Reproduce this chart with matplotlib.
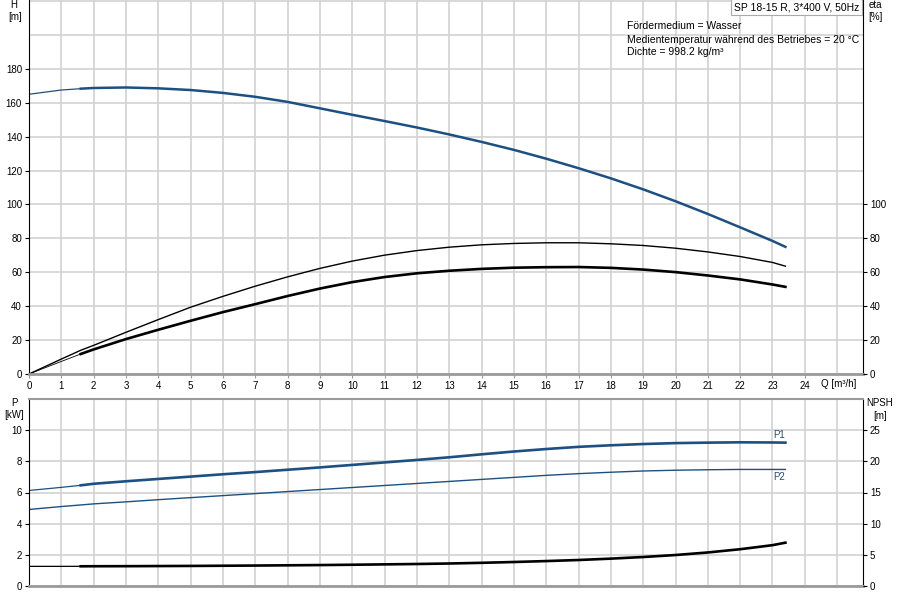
import numpy as np
import matplotlib
matplotlib.use('Agg')
import matplotlib.pyplot as plt

plt.rcParams['font.family'] = ['Liberation Sans', 'DejaVu Sans']
plt.rcParams['font.size'] = 7

# flow points, m3/h
q = [0, 1, 1.6, 2, 3, 4, 5, 6, 7, 8, 9, 10, 11, 12, 13, 14, 15, 16, 17, 18,
     19, 20, 21, 22, 23, 23.4]

# head, m
head = [165.0, 167.5, 168.3, 168.7, 169.0, 168.5, 167.5, 165.8, 163.5, 160.5,
        156.7, 152.9, 149.2, 145.4, 141.3, 136.9, 132.2, 127.0, 121.4, 115.4,
        108.9, 101.9, 94.4, 86.5, 78.5, 75.0]

# efficiencies, %
eta_pump = [0, 8.8, 14.0, 16.9, 24.6, 32.1, 39.4, 45.8, 51.8, 57.3, 62.3, 66.6,
            70.1, 72.8, 74.8, 76.2, 77.0, 77.4, 77.4, 76.8, 75.8, 74.2, 72.0,
            69.3, 65.8, 63.6]
eta_total = [0, 7.4, 11.8, 14.5, 20.6, 26.1, 31.4, 36.5, 41.2, 46.0, 50.4,
             54.2, 57.2, 59.4, 60.9, 62.0, 62.7, 63.0, 63.1, 62.6, 61.6, 60.1,
             58.1, 55.8, 52.8, 51.4]

# power, kW
p1 = [6.13, 6.33, 6.46, 6.56, 6.72, 6.87, 7.02, 7.17, 7.31, 7.46, 7.61, 7.77,
      7.93, 8.09, 8.26, 8.45, 8.63, 8.79, 8.93, 9.03, 9.11, 9.17, 9.20, 9.22,
      9.21, 9.20]
p2 = [4.91, 5.10, 5.20, 5.27, 5.40, 5.54, 5.67, 5.80, 5.93, 6.06, 6.19, 6.32,
      6.45, 6.58, 6.71, 6.84, 6.97, 7.10, 7.21, 7.30, 7.38, 7.43, 7.46, 7.48,
      7.48, 7.48]

# NPSH, m
npsh = [3.15, 3.15, 3.16, 3.17, 3.18, 3.20, 3.22, 3.25, 3.28, 3.32, 3.36, 3.41,
        3.47, 3.53, 3.61, 3.72, 3.85, 4.00, 4.17, 4.39, 4.65, 4.97, 5.38, 5.90,
        6.55, 6.95]

q_ticks = list(range(0, 25))
h_ticks = list(range(0, 181, 20))
eta_ticks = list(range(0, 101, 20))
p_ticks = list(range(0, 11, 2))
npsh_ticks = list(range(0, 26, 5))

blue = '#1c5082'
grid_c = '#d2d2d2'
k = 2  # index of Q = 1.6, start of the working range

fig = plt.figure(figsize=(9, 6), dpi=100)
ax = fig.add_axes([29 / 900, 226 / 600, 834 / 900, 374 / 600])
axp = fig.add_axes([29 / 900, 14 / 600, 834 / 900, 187 / 600])


def style_axes(a, ymax, ystep):
    a.set_xlim(0, 25.8)
    a.set_ylim(0, ymax)
    a.set_xticks(np.arange(0, 26, 1), minor=True)
    a.set_yticks(np.arange(0, ymax + 0.01, ystep), minor=True)
    a.grid(True, which='both', color=grid_c, lw=1.2)
    a.tick_params(which='minor', length=0)
    a.set_axisbelow(True)
    a.spines['top'].set_visible(False)
    a.spines['left'].set_color('black')
    a.spines['right'].set_color('black')
    a.spines['bottom'].set_color('#9a9a9a')
    a.spines['bottom'].set_linewidth(2)
    a.tick_params(axis='y', direction='out', length=3, width=0.8, pad=2,
                  labelsize=7)


style_axes(ax, 220.6, 20)
style_axes(axp, 12, 2)
axp.spines['top'].set_visible(True)
axp.spines['top'].set_color('#9a9a9a')
axp.spines['top'].set_linewidth(1.5)

ax.set_yticks(h_ticks)
ax.set_xticks(q_ticks)
ax.tick_params(axis='x', direction='out', length=3, width=0.8, pad=2,
               labelsize=7, color='#9a9a9a')
axp.set_yticks(p_ticks)
axp.set_xticks([])

# top panel curves
ax.plot(q[:k + 1], head[:k + 1], color=blue, lw=0.9)
ax.plot(q[k:], head[k:], color=blue, lw=1.8)
ax.plot(q, eta_pump, color='black', lw=1.0)
ax.plot(q[:k + 1], eta_total[:k + 1], color='black', lw=0.6)
ax.plot(q[k:], eta_total[k:], color='black', lw=1.9)

axe = ax.twinx()
axe.set_ylim(0, 220.6)
axe.set_yticks(eta_ticks)
axe.tick_params(axis='y', direction='out', length=3, width=0.8, pad=2,
                labelsize=7)
for s in axe.spines.values():
    s.set_visible(False)

# bottom panel curves
axp.plot(q[:k + 1], p1[:k + 1], color=blue, lw=0.9)
axp.plot(q[k:], p1[k:], color=blue, lw=1.9)
axp.plot(q, p2, color=blue, lw=1.0)

axn = axp.twinx()
axn.set_ylim(0, 30)
axn.set_yticks(npsh_ticks)
axn.tick_params(axis='y', direction='out', length=3, width=0.8, pad=2,
                labelsize=7)
for s in axn.spines.values():
    s.set_visible(False)
axn.plot(q[:k + 1], npsh[:k + 1], color='black', lw=0.9)
axn.plot(q[k:], npsh[k:], color='black', lw=1.9)

axp.text(23.2, p1[-1] + 0.15, 'P1', color='#2a4a70', fontsize=7,
         ha='center', va='bottom')
axp.text(23.2, p2[-1] - 0.15, 'P2', color='#2a4a70', fontsize=7,
         ha='center', va='top')

# axis captions
fig.text(14 / 900, 1 - 5 / 600, 'H', ha='center', va='center', fontsize=7)
fig.text(15 / 900, 1 - 17 / 600, '[m]', ha='center', va='center', fontsize=7)
fig.text(875 / 900, 1 - 5 / 600, 'eta', ha='center', va='center', fontsize=7)
fig.text(875 / 900, 1 - 17 / 600, '[%]', ha='center', va='center', fontsize=7)
fig.text(14 / 900, 1 - 403 / 600, 'P', ha='center', va='center', fontsize=7)
fig.text(14 / 900, 1 - 415 / 600, '[kW]', ha='center', va='center', fontsize=7)
fig.text(880 / 900, 1 - 403 / 600, 'NPSH', ha='center', va='center', fontsize=7)
fig.text(880 / 900, 1 - 416 / 600, '[m]', ha='center', va='center', fontsize=7)
fig.text(839 / 900, 1 - 384 / 600, 'Q [m³/h]', ha='center', va='center',
         fontsize=7)

fig.text(859 / 900, 1 - 7 / 600, 'SP 18-15 R, 3*400 V, 50Hz', ha='right',
         va='center', fontsize=7.5,
         bbox=dict(boxstyle='square,pad=0.25', fc='white', ec='#aaaaaa',
                   lw=0.8))
fig.text(627 / 900, 1 - 26 / 600, 'Fördermedium = Wasser', ha='left',
         va='center', fontsize=7.5)
fig.text(627 / 900, 1 - 40 / 600,
         'Medientemperatur während des Betriebes = 20 °C', ha='left',
         va='center', fontsize=7.5)
fig.text(627 / 900, 1 - 52 / 600, 'Dichte = 998.2 kg/m³', ha='left',
         va='center', fontsize=7.5)

fig.savefig('out.png', dpi=100)
